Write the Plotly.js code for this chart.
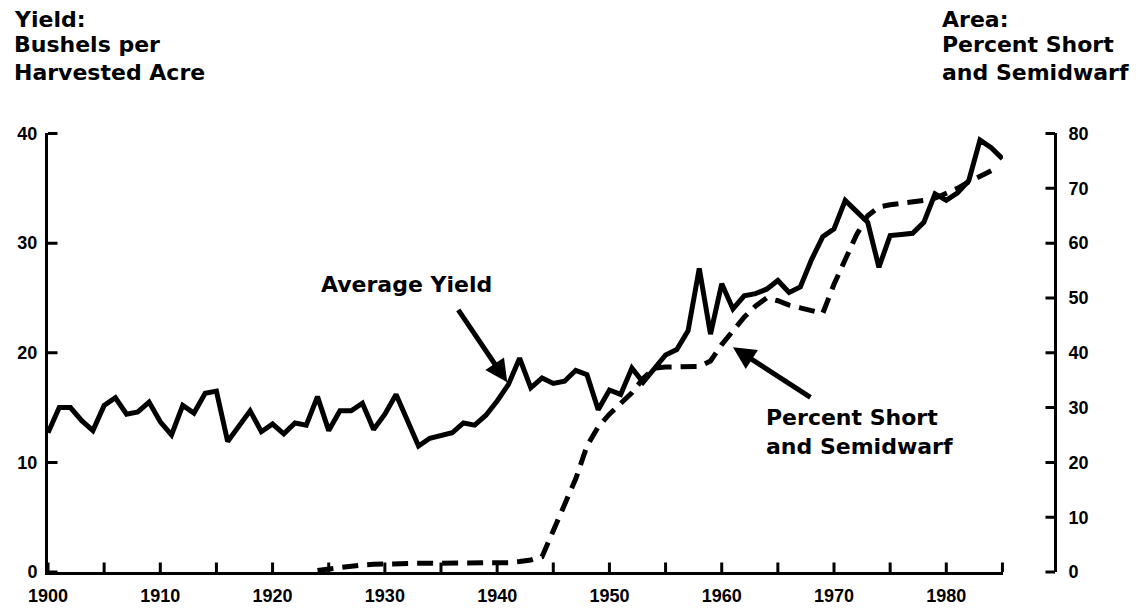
<!DOCTYPE html>
<html>
<head>
<meta charset="utf-8">
<script src="https://cdn.plot.ly/plotly-3.0.1.min.js"></script>
<style>
  html, body { margin: 0; padding: 0; background: #ffffff; }
  #chart { width: 1143px; height: 608px; }
</style>
</head>
<body>
<div id="chart"></div>
<script>
// ---- Data ----
var yieldYears = [1900,1901,1902,1903,1904,1905,1906,1907,1908,1909,
                  1910,1911,1912,1913,1914,1915,1916,1917,1918,1919,
                  1920,1921,1922,1923,1924,1925,1926,1927,1928,1929,
                  1930,1931,1932,1933,1934,1935,1936,1937,1938,1939,
                  1940,1941,1942,1943,1944,1945,1946,1947,1948,1949,
                  1950,1951,1952,1953,1954,1955,1956,1957,1958,1959,
                  1960,1961,1962,1963,1964,1965,1966,1967,1968,1969,
                  1970,1971,1972,1973,1974,1975,1976,1977,1978,1979,
                  1980,1981,1982,1983,1984,1985];
var yieldValues = [12.7,15.0,15.0,13.8,12.9,15.2,15.9,14.4,14.6,15.5,
                   13.7,12.5,15.2,14.5,16.3,16.5,11.9,13.3,14.7,12.8,
                   13.5,12.6,13.6,13.4,16.0,12.9,14.7,14.7,15.4,13.0,
                   14.4,16.2,13.8,11.5,12.2,12.4,12.7,13.6,13.4,14.3,
                   15.6,17.1,19.5,16.8,17.7,17.2,17.4,18.4,18.0,14.8,
                   16.6,16.2,18.6,17.3,18.5,19.8,20.3,22.0,27.7,21.7,
                   26.3,24.0,25.2,25.4,25.8,26.6,25.5,26.0,28.5,30.6,
                   31.3,33.9,32.9,31.9,27.8,30.7,30.8,30.9,31.9,34.5,
                   33.9,34.6,35.7,39.4,38.7,37.7];

var shortYears = [1924,1925,1926,1927,1928,1929,1930,1931,1932,1933,
                  1934,1935,1936,1937,1938,1939,1940,1941,1942,1943,
                  1944,1945,1946,1947,1948,1949,1950,1951,1952,1953,
                  1954,1955,1956,1957,1958,1959,1960,1961,1962,1963,
                  1964,1965,1966,1967,1968,1969,1970,1971,1972,1973,
                  1974,1975,1976,1977,1978,1979,1980,1981,1982,1983,1984];
var shortValues = [0.3,0.6,0.9,1.1,1.3,1.4,1.5,1.6,1.6,1.6,
                   1.6,1.6,1.6,1.6,1.6,1.6,1.6,1.7,1.9,2.2,
                   2.8,7.5,12.5,17.0,23.0,26.5,28.8,30.8,32.7,35.3,
                   37.2,37.4,37.4,37.4,37.5,38.5,41.5,44.0,46.5,48.5,
                   50.0,49.5,48.7,48.2,47.7,47.2,52.5,57.0,61.5,65.0,
                   66.6,67.0,67.2,67.5,67.8,68.2,69.0,70.0,71.2,72.2,73.2];

var xTickYears  = [1900,1910,1920,1930,1940,1950,1960,1970,1980];
var xTickLabels = ['1900','1910','1920','1930','1940','1950','1960','1970','1980'];
var xMinorYears = [1905,1915,1925,1935,1945,1955,1965,1975,1985];
var yLeftTicks  = [0,10,20,30,40];
var yRightTicks = [0,10,20,30,40,50,60,70,80];

var leftTitleLines  = ['Yield:', 'Bushels per', 'Harvested Acre'];
var rightTitleLines = ['Area:', 'Percent Short', 'and Semidwarf'];
var yieldLabel = 'Average Yield';
var shortLabel = 'Percent Short<br>and Semidwarf';

// ---- Layout helpers ----
var W = 1143, H = 608;
var M = {l: 48, r: 88, t: 133, b: 36};
var plotW = W - M.l - M.r, plotH = H - M.t - M.b;
var xDomainEnd = (1003 - M.l) / plotW;
var X_RANGE = [1900, 1985.05], YL_RANGE = [0, 40.05], YR_RANGE = [0, 80.1];
function px(x) { return (x - M.l) / plotW; }
function py(y) { return (H - M.b - y) / plotH; }
var TICK = 11;

var tickFont  = {family: 'Liberation Sans, Arial, sans-serif', size: 18, color: '#000', weight: 'bold'};
var labelFont = {family: 'DejaVu Sans, sans-serif', size: 22, color: '#000', weight: 'bold'};

var traces = [
  {
    x: yieldYears, y: yieldValues, type: 'scatter', mode: 'lines',
    line: {color: '#000', width: 5, shape: 'linear'},
    xaxis: 'x', yaxis: 'y', hoverinfo: 'skip'
  },
  {
    x: shortYears, y: shortValues, type: 'scatter', mode: 'lines',
    line: {color: '#000', width: 5, dash: '16px,9px'},
    xaxis: 'x', yaxis: 'y2', hoverinfo: 'skip'
  }
];

var annotations = [];

// ---- Tick marks pointing into the plot (drawn as head-less annotation arrows) ----
function tickMark(xref, yref, x, y, ax, ay) {
  return {xref: xref, yref: yref, x: x, y: y, ax: ax, ay: ay, text: '',
    showarrow: true, arrowhead: 0, arrowwidth: 3, arrowcolor: '#000', standoff: 0, startstandoff: 0};
}
xTickYears.concat(xMinorYears).forEach(function (yr) {
  annotations.push(tickMark('x', 'y', yr, 0, 0, -TICK));
});
yLeftTicks.forEach(function (v) {
  annotations.push(tickMark('paper', 'y', 0, v, TICK, 0));
});
yRightTicks.forEach(function (v) {
  annotations.push(tickMark('paper', 'y2', 1, v, -TICK, 0));
});

var titleYs = [20, 45, 73];
leftTitleLines.forEach(function (t, i) {
  annotations.push({xref: 'paper', yref: 'paper', x: px(12), y: py(titleYs[i]),
    xanchor: 'left', yanchor: 'middle', text: t, showarrow: false, font: labelFont});
});
rightTitleLines.forEach(function (t, i) {
  annotations.push({xref: 'paper', yref: 'paper', x: px(940), y: py(titleYs[i]),
    xanchor: 'left', yanchor: 'middle', text: t, showarrow: false, font: labelFont});
});
annotations.push({xref: 'x', yref: 'y', x: 1924.1, y: 26.2, xanchor: 'left', yanchor: 'middle',
  text: yieldLabel, showarrow: false, font: labelFont});
annotations.push({xref: 'x', yref: 'y', x: 1963.8, y: 12.8, xanchor: 'left', yanchor: 'middle',
  align: 'left', text: shortLabel, showarrow: false, font: labelFont});
// pointer arrows
annotations.push({xref: 'x', yref: 'y', x: 1940.9, y: 17.3, text: '', showarrow: true,
  ax: -50, ay: -74, arrowhead: 2, arrowsize: 0.9, arrowwidth: 5, arrowcolor: '#000', standoff: 0});
annotations.push({xref: 'x', yref: 'y', x: 1961.0, y: 20.5, text: '', showarrow: true,
  ax: 79, ay: 51, arrowhead: 2, arrowsize: 0.9, arrowwidth: 5, arrowcolor: '#000', standoff: 0});

var layout = {
  width: W, height: H,
  margin: M,
  paper_bgcolor: '#fff', plot_bgcolor: '#fff',
  showlegend: false,
  font: tickFont,
  xaxis: {
    domain: [0, xDomainEnd],
    range: X_RANGE,
    tickmode: 'array', tickvals: xTickYears, ticktext: xTickLabels,
    ticks: '',
    showline: true, linewidth: 3, linecolor: '#000',
    showgrid: false, zeroline: false, tickfont: tickFont, ticklabelstandoff: 5
  },
  yaxis: {
    range: YL_RANGE,
    tickmode: 'array', tickvals: yLeftTicks,
    ticks: '',
    showline: true, linewidth: 3, linecolor: '#000',
    showgrid: false, zeroline: false, tickfont: tickFont, ticklabelstandoff: 4
  },
  yaxis2: {
    range: YR_RANGE, overlaying: 'y', side: 'right', anchor: 'free', position: 1,
    tickmode: 'array', tickvals: yRightTicks,
    ticks: '',
    showline: true, linewidth: 3, linecolor: '#000',
    showgrid: false, zeroline: false, tickfont: tickFont, ticklabelstandoff: 8
  },
  annotations: annotations
};

Plotly.newPlot('chart', traces, layout, {staticPlot: true, displayModeBar: false});
</script>
</body>
</html>
